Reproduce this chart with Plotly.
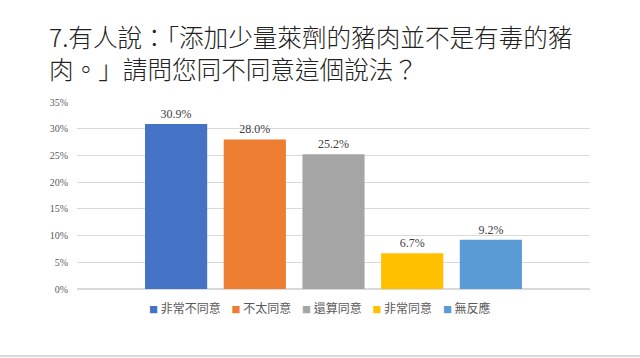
import plotly.graph_objects as go

categories = ["非常不同意", "不太同意", "還算同意", "非常同意", "無反應"]
values = [30.9, 28.0, 25.2, 6.7, 9.2]
colors = ["#4472C4", "#ED7D31", "#A5A5A5", "#FFC000", "#5B9BD5"]
tick_vals = [0, 5, 10, 15, 20, 25, 30, 35]
tick_text = [f"{v}%" for v in tick_vals]
title_text = "7.有人說：「添加少量萊劑的豬肉並不是有毒的豬<br>肉。」請問您同不同意這個說法？"

fig = go.Figure()
for name, val, col in zip(categories, values, colors):
    fig.add_trace(go.Bar(
        x=[""], y=[val], name=name,
        marker=dict(color=col, line=dict(width=0)),
        text=[f"{val:.1f}%"], textposition="outside",
        textfont=dict(family="Liberation Serif, Times New Roman, serif", size=12, color="#404040"),
        cliponaxis=False, showlegend=False,
    ))

# legend in Excel style: small coloured squares followed by category names
legend_text = "\u00a0\u00a0\u00a0\u00a0".join(
    f'<span style="color:{c};font-size:9px">■</span>\u00a0{n}' for n, c in zip(categories, colors)
)

fig.update_layout(
    width=640, height=358,
    margin=dict(l=77, r=50, t=102, b=69),
    paper_bgcolor="white", plot_bgcolor="white",
    barmode="group", bargap=0.233, bargroupgap=0.21,
    title=dict(text=title_text, x=49/640, xanchor="left", xref="container",
               y=1 - 47/358, yanchor="middle", yref="container",
               font=dict(family="Noto Sans CJK TC, sans-serif", size=24.6, color="#222222", weight=300)),
    yaxis=dict(range=[0, 35], tickvals=tick_vals, ticktext=tick_text,
               gridcolor="#d9d9d9", gridwidth=1, zeroline=True, zerolinecolor="#d9d9d9",
               showline=False, ticks="", ticklabelstandoff=8,
               tickfont=dict(family="Liberation Serif, Times New Roman, serif", size=10, color="#595959")),
    xaxis=dict(showticklabels=False, showgrid=False, ticks="", showline=False),
    showlegend=False,
    annotations=[dict(text=legend_text, xref="paper", yref="paper",
                      x=(320-77)/513, y=-(307.7-289.3)/187.6, xanchor="center", yanchor="middle",
                      showarrow=False,
                      font=dict(family="Noto Sans CJK TC, sans-serif", size=12, color="#595959"))],
    shapes=[dict(type="line", xref="paper", yref="paper",
                 x0=-77/513, x1=(640-77)/513, y0=-(356.5-289.3)/187.6, y1=-(356.5-289.3)/187.6,
                 line=dict(color="#d9d9d9", width=2))],
)

fig.write_html("out.html", config={"displayModeBar": False},
               post_script="document.body.style.margin='0';")
